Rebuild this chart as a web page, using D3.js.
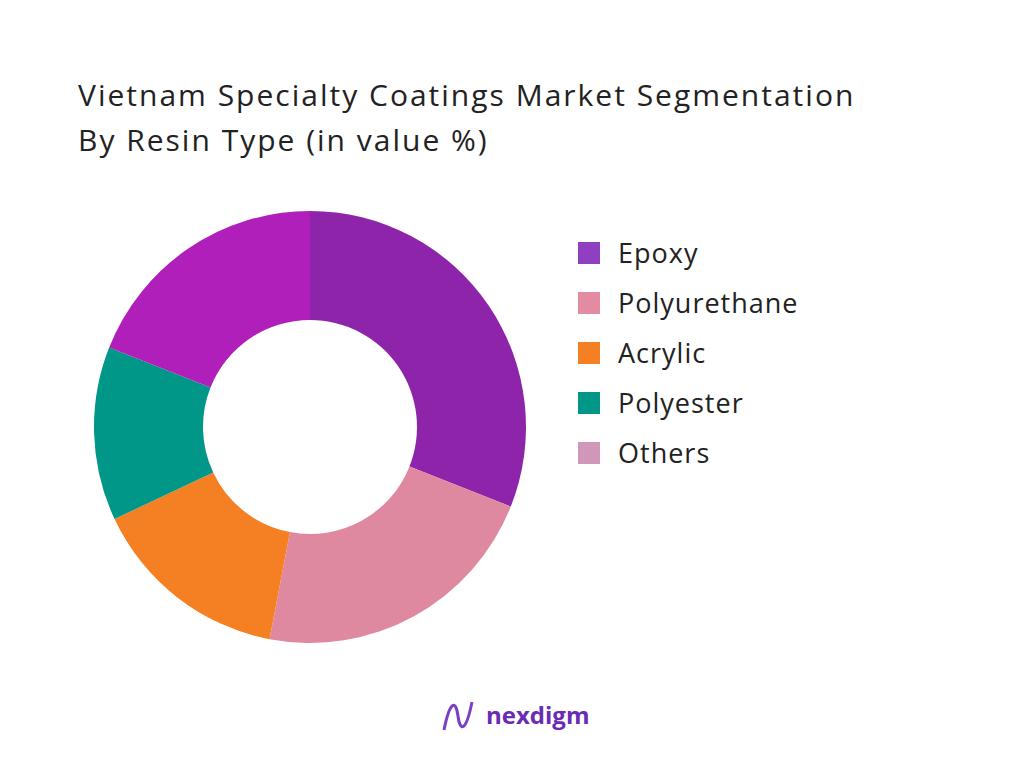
<!DOCTYPE html>
<html><head><meta charset="utf-8">
<script src="https://cdn.jsdelivr.net/npm/d3@7"></script>
<style>body{margin:0;background:#fff}svg{font-family:"Open Sans",sans-serif}</style>
</head><body><svg id="c" width="1024" height="768"></svg>
<script>
const categories = ["Epoxy", "Polyurethane", "Acrylic", "Polyester", "Others"];
const shares = [31, 22, 15, 13, 19];
const sliceColors = ["#8E24AA", "#DF89A0", "#F57F23", "#009688", "#B11FBA"];
const legendColors = ["#8E3FC2", "#E38BA1", "#F57F23", "#009688", "#D197BB"];

const svg = d3.select("#c");
svg.append("rect").attr("width", 1024).attr("height", 768).attr("fill", "#fff");

const title = svg.append("text").attr("x", 78).attr("font-size", 30)
  .attr("letter-spacing", 2).attr("fill", "#222");
title.append("tspan").attr("x", 78).attr("y", 106).text("Vietnam Specialty Coatings Market Segmentation");
title.append("tspan").attr("x", 78).attr("y", 151).text("By Resin Type (in value %)");

const pie = d3.pie().sort(null).value(d => d)(shares);
const arc = d3.arc().innerRadius(107).outerRadius(216);
svg.append("g").attr("transform", "translate(310,427)")
  .selectAll("path").data(pie).enter().append("path")
  .attr("d", arc).attr("fill", (d, i) => sliceColors[i]);

const legend = svg.append("g").attr("transform", "translate(578,242)");
const item = legend.selectAll("g").data(categories).enter().append("g")
  .attr("transform", (d, i) => `translate(0,${i * 50})`);
item.append("rect").attr("width", 22).attr("height", 22).attr("fill", (d, i) => legendColors[i]);
item.append("text").attr("x", 40).attr("y", 21).attr("font-size", 27)
  .attr("letter-spacing", 1).attr("fill", "#222").text(d => d);

const logo = svg.append("g").attr("transform", "translate(442,700)");
logo.append("path").attr("d", "M2,30 C8,0 14,0 16,16 C18,32 24,32 30,2")
  .attr("fill", "none").attr("stroke", "#7B3FC4").attr("stroke-width", 3);
logo.append("text").attr("x", 44).attr("y", 24).attr("font-size", 24).attr("font-weight", "bold")
  .attr("fill", "#6A2BB5").text("nexdigm");
</script></body></html>
